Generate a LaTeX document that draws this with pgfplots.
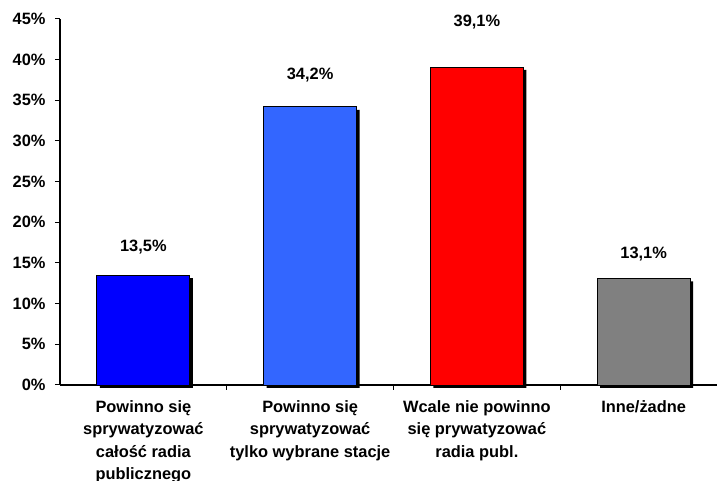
\documentclass[border=0pt]{standalone}
\usepackage{pgfplots}
\pgfplotsset{compat=1.18}
\usepackage{fontspec}
\setmainfont{Liberation Sans}
\definecolor{barblue}{RGB}{0,0,255}
\definecolor{barlight}{RGB}{51,102,255}
\definecolor{barred}{RGB}{255,0,0}
\definecolor{bargray}{RGB}{128,128,128}
\begin{document}
\begin{tikzpicture}[font=\bfseries\fontsize{16.4}{22.5}\selectfont]
\begin{axis}[
    at={(0,0)}, anchor=south west,
    scale only axis, width=657pt, height=366pt,
    xmin=-0.5, xmax=3.44, ymin=0, ymax=45,
    axis x line*=bottom, axis y line*=left,
    axis line style={black, line width=1.2pt, -},
    tick align=outside, major tick length=5pt,
    tick style={black, line width=1pt},
    ytick={0,5,...,45},
    yticklabel={\pgfmathprintnumber[assume math mode=true]{\tick}\%},
    yticklabel style={xshift=-6pt},
    xtick={0.5,1.5,2.5}, xticklabels={},
    extra x ticks={0,1,2,3},
    extra x tick style={major tick length=0pt},
    extra x tick labels={{Powinno się\\sprywatyzować\\całość radia\\publicznego},
        {Powinno się\\sprywatyzować\\tylko wybrane stacje},
        {Wcale nie powinno\\się prywatyzować\\radia publ.},
        {Inne/żadne}},
    xticklabel style={align=center, anchor=north, yshift=-12pt},
    ybar, bar shift=0pt, bar width=93pt,
    clip=false,
    point meta=explicit symbolic,
]
% cien pod slupkami
\addplot[fill=black, draw=none, xshift=3pt, yshift=-3pt]
    coordinates {(0,13.5) (1,34.2) (2,39.1) (3,13.1)};
% slupki
\addplot[fill=barblue, draw=black, line width=0.8pt, nodes near coords,
    every node near coord/.append style={anchor=base, yshift=24pt}]
    coordinates {(0,13.5) [13,5\%]};
\addplot[fill=barlight, draw=black, line width=0.8pt, nodes near coords,
    every node near coord/.append style={anchor=base, yshift=27pt}]
    coordinates {(1,34.2) [34,2\%]};
\addplot[fill=barred, draw=black, line width=0.8pt, nodes near coords,
    every node near coord/.append style={anchor=base, yshift=40pt}]
    coordinates {(2,39.1) [39,1\%]};
\addplot[fill=bargray, draw=black, line width=0.8pt, nodes near coords,
    every node near coord/.append style={anchor=base, yshift=19.5pt}]
    coordinates {(3,13.1) [13,1\%]};
\end{axis}
\pgfresetboundingbox
\path[use as bounding box] (-60pt,-96pt) rectangle (657pt,385pt);
\end{tikzpicture}
\end{document}
